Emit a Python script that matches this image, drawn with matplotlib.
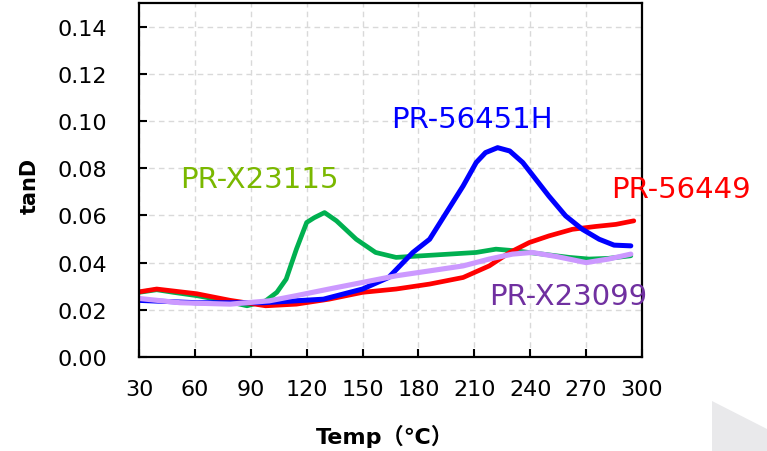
import matplotlib
matplotlib.use('Agg')
import matplotlib.pyplot as plt
from matplotlib.patches import Polygon

# PR-56451H (blue)
t_blue = [30, 61, 97, 129, 150, 164, 177, 186, 195, 204, 211, 216, 222.5, 229, 236, 243, 250, 259, 268, 277, 285, 294]
v_blue = [0.024, 0.023, 0.023, 0.0245, 0.0288, 0.0337, 0.0443, 0.0499, 0.0612, 0.0725, 0.0824, 0.0866, 0.0887,
          0.0873, 0.0824, 0.0753, 0.0682, 0.0598, 0.0541, 0.0499, 0.0474, 0.0471]

# PR-X23115 (green)
t_green = [30, 39.5, 48.5, 61, 75, 88, 98, 104, 109, 114.5, 120, 124, 129.6, 136, 146.6, 157, 168, 182, 196.6, 211,
           221.6, 232, 246.6, 261, 271.6, 282, 294]
v_green = [0.0274, 0.0285, 0.0274, 0.026, 0.024, 0.0217, 0.0238, 0.0274, 0.033, 0.0457, 0.057, 0.059, 0.0612,
           0.0577, 0.0499, 0.0443, 0.0422, 0.0429, 0.0436, 0.0443, 0.0457, 0.045, 0.0436, 0.0422, 0.0415, 0.0418, 0.0429]

# PR-56449 (red)
t_red = [30, 39.5, 61, 79, 98, 114.5, 132, 150, 168, 186, 204, 218, 229, 239.5, 250, 262.6, 275, 286, 295.6]
v_red = [0.0276, 0.0288, 0.0268, 0.024, 0.0217, 0.0224, 0.0245, 0.0274, 0.0288, 0.0309, 0.0337, 0.0386, 0.0443,
         0.0485, 0.0513, 0.0541, 0.0553, 0.0562, 0.0577]

# PR-X23099 (purple)
t_purple = [30, 52, 79, 100, 114.5, 132, 150, 168, 186, 204, 218, 230.5, 241, 254, 270, 282, 294]
v_purple = [0.0248, 0.023, 0.0224, 0.0238, 0.026, 0.0288, 0.0316, 0.0344, 0.0365, 0.0386, 0.0415, 0.0436, 0.0443,
            0.0426, 0.040, 0.0415, 0.0436]

x_ticks = [30, 60, 90, 120, 150, 180, 210, 240, 270, 300]
y_ticks = [0.00, 0.02, 0.04, 0.06, 0.08, 0.10, 0.12, 0.14]

fig = plt.figure(figsize=(7.67, 4.52), dpi=100)
ax = fig.add_axes([139 / 767, 94 / 452, 503 / 767, 354 / 452])

ax.plot(t_green, v_green, color='#00b050', lw=3.4, solid_capstyle='round')
ax.plot(t_red, v_red, color='#ff0000', lw=3.4, solid_capstyle='round')
ax.plot(t_blue, v_blue, color='#0000ff', lw=3.6, solid_capstyle='round')
ax.plot(t_purple, v_purple, color='#cc99ff', lw=3.7, solid_capstyle='round')

ax.set_xlim(30, 300)
ax.set_ylim(0, 0.15)
ax.set_xticks(x_ticks)
ax.set_yticks(y_ticks)
ax.set_yticklabels([f'{v:.2f}' for v in y_ticks])
ax.tick_params(direction='in', length=6, width=1.5, labelsize=16)
ax.tick_params(axis='y', pad=23)
ax.tick_params(axis='x', pad=16)
ax.grid(True, color='#d9d9d9', linestyle=(0, (4, 3)), linewidth=1)
for s in ax.spines.values():
    s.set_linewidth(1.6)

ax.text(165.5, 0.1007, 'PR-56451H', color='#0000ff', fontsize=21, ha='left', va='center')
ax.text(52, 0.0753, 'PR-X23115', color='#7ab800', fontsize=21, ha='left', va='center')
ax.text(283.4, 0.0711, 'PR-56449', color='#ff0000', fontsize=21, ha='left', va='center')
ax.text(218, 0.0258, 'PR-X23099', color='#7030a0', fontsize=21, ha='left', va='center')

fig.text(30 / 767, 1 - 186 / 452, 'tanD', rotation=90, fontsize=15, fontweight='bold', ha='center', va='center')
fig.text(385 / 767, 1 - 436 / 452, 'Temp（℃）', fontsize=16, fontweight='bold', ha='center', va='center',
         family=['DejaVu Sans', 'Noto Sans CJK JP'])

# grey corner shape
fig.patches.append(Polygon([[712 / 767, 1 - 402 / 452], [1, 1 - 430 / 452], [1, 0], [712 / 767, 0]],
                           closed=True, transform=fig.transFigure, facecolor='#e9e9eb', edgecolor='none'))

plt.savefig('out.png', dpi=100)
